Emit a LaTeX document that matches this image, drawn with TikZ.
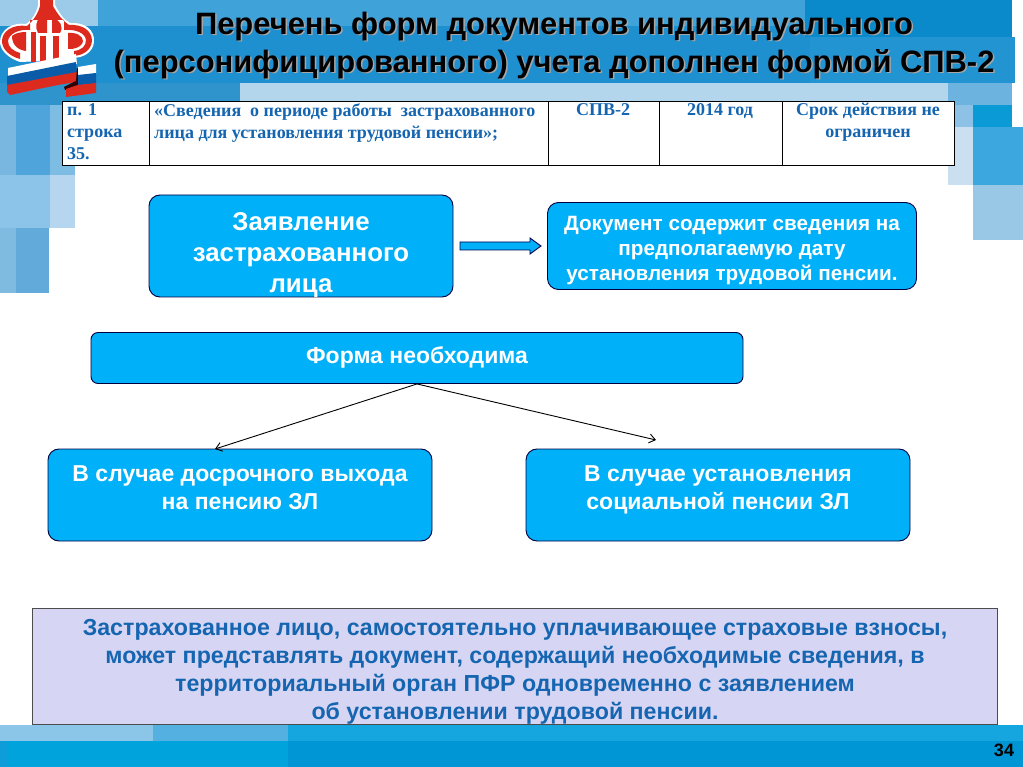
\documentclass[tikz,border=0pt]{standalone}
\usepackage{fontspec}
\setmainfont{Liberation Sans}
\newfontfamily\serifcell{Liberation Serif}
\usetikzlibrary{arrows.meta}
\definecolor{boxblue}{HTML}{00B0F8}
\definecolor{textblue}{HTML}{1565B0}
\definecolor{lav}{HTML}{D6D6F4}
\definecolor{logored}{HTML}{DD2A1E}
\definecolor{flagblue}{HTML}{0A5CA8}
\tikzset{
 x=1pt,y=-1pt,
 bluebox/.style={draw=black!75!blue,line width=0.9pt,fill=boxblue,rounded corners=11pt,inner sep=0pt},
 cell/.style={font=\serifcell\bfseries\fontsize{18}{22}\selectfont,text=textblue,inner sep=0pt},
 lbl/.style={inner sep=0pt,align=center},
 conn/.style={draw=black,line width=0.9pt,-{Straight Barb[length=6pt,width=9pt]}},
}
\newcommand{\blk}[5]{\definecolor{tmpc}{HTML}{#5}\fill[tmpc] (#1,#2) rectangle (#3,#4);}
\begin{document}
\begin{tikzpicture}
\useasboundingbox (0,0) rectangle (1023,767);
\fill[white] (0,0) rectangle (1023,767);
% header blocks
\blk{98}{0}{1012}{83}{2E9AD6}
\blk{0}{0}{98}{26}{9CCBEA}
\blk{0}{26}{1012}{83}{1E8FCF}
\blk{98}{0}{805}{26}{3FA3DA}
\blk{0}{83}{240}{105}{2F93CC}
\blk{240}{83}{948}{105}{B4D6EC}
\blk{805}{0}{1012}{37}{0A8ACB}
\blk{810}{37}{1015}{83}{2294D2}
\blk{948}{83}{1012}{105}{6DB3DF}
\blk{948}{105}{973}{127}{8DC2E6}
\blk{973}{105}{1012}{127}{0A9BD7}
\blk{948}{127}{973}{185}{CADFF0}
\blk{973}{127}{1023}{185}{3BA7DE}
\blk{973}{185}{1023}{240}{99C7E6}
% left column
\blk{0}{105}{16}{175}{79B7E0}
\blk{16}{105}{50}{175}{4FA5DB}
\blk{50}{105}{75}{175}{7DBCE3}
\blk{0}{175}{50}{228}{8BC4E8}
\blk{50}{175}{75}{228}{B5D6EE}
\blk{0}{228}{16}{293}{7FBAE0}
\blk{16}{228}{49}{293}{62AAD9}
% footer
\blk{0}{725}{1023}{767}{0E9DD9}
\blk{0}{725}{153}{741}{8BC6E8}
\blk{153}{725}{288}{741}{55B0E2}
\blk{288}{725}{1023}{741}{15A6DF}
\blk{8}{741}{288}{767}{00A3DC}
\blk{288}{741}{1023}{767}{0096D6}
% logo
\begin{scope}
\fill[white] (38,0) -- (55,0) -- (55,5) .. controls (60,14) and (64,20) .. (70,23) .. controls (85,22) and (95,30) .. (94,42) .. controls (93,52) and (84,58) .. (72,58) -- (68,60) -- (20,62) .. controls (8,58) and (0,50) .. (0,42) .. controls (0,30) and (12,22) .. (26,24) .. controls (32,20) and (37,12) .. (38,5) -- cycle;
\fill[logored] (40,0) -- (53,0) -- (53,6) .. controls (58,15) and (63,21) .. (69,25) .. controls (83,24) and (92,31) .. (92,41) .. controls (91,50) and (84,55) .. (74,56) -- (74,51) .. controls (82,50) and (86,46) .. (86,40) .. controls (85,33) and (76,29) .. (64,30) -- (64,20) -- (30,20) -- (30,30) .. controls (18,29) and (9,34) .. (8,41) .. controls (8,47) and (13,51) .. (20,53) -- (20,59) .. controls (9,56) and (2,49) .. (2,41) .. controls (2,31) and (13,24) .. (27,26) .. controls (33,21) and (38,14) .. (40,6) -- cycle;
\fill[logored] (12,36) .. controls (15,33) and (21,32) .. (26,32) -- (26,51) .. controls (18,50) and (12,45) .. (12,36) -- cycle;
\fill[logored] (68,33) .. controls (76,32) and (83,36) .. (83,41) .. controls (83,45) and (78,48) .. (72,49) -- (68,49) -- cycle;
\fill[logored] (31,32) rectangle (36,62);
\fill[logored] (40,18) .. controls (36,20) and (35,28) .. (38,33) -- (47,33) -- (47,18) -- cycle;
\fill[logored] (52,18) .. controls (60,19) and (64,27) .. (60,33) -- (52,33) -- cycle;
\fill[logored] (40,36) rectangle (46,62);
\fill[logored] (53,36) rectangle (59,60);
\fill[white] (8,68) -- (76,54) -- (77,64) -- (8,77) -- cycle;
\fill[flagblue] (7,76) -- (76,62) -- (77,73) -- (7,86) -- cycle;
\fill[logored] (7,85) -- (77,72) -- (76,82) .. controls (50,86) and (25,92) .. (10,95) -- (7,92) -- cycle;
\fill[black!80!red] (64,87) -- (76,81) -- (77,68) -- (80,70) -- (80,86) -- (65,90) -- cycle;
\fill[white] (78,67) -- (96,64) -- (96,74) -- (78,76) -- cycle;
\fill[flagblue] (78,75) -- (96,73) -- (96,84) -- (78,85) -- cycle;
\fill[logored] (66,89) -- (78,85) -- (96,83) -- (96,93) -- (66,97) -- cycle;
\end{scope}
% title
\node[lbl,font=\bfseries\fontsize{30.9}{38}\selectfont,text=black!35] at (555.5,47) {Перечень форм документов индивидуального\\(персонифицированного) учета дополнен формой СПВ-2};
\node[lbl,font=\bfseries\fontsize{30.9}{38}\selectfont,text=black] (title) at (554,45.5) {Перечень форм документов индивидуального\\(персонифицированного) учета дополнен формой СПВ-2};
% table
\fill[white] (62,101) rectangle (954,165);
\draw[line width=0.9pt,draw=black] (62,101) rectangle (954,165);
\foreach \xx in {149,548,659,782}{\draw[line width=0.9pt] (\xx,101) -- (\xx,165);}
\node[cell,align=left,anchor=north west] (c1) at (67,103) {п. 1\\строка\\35.};
\node[cell,align=left,anchor=north west] (c2) at (154,103) {«Сведения~ о периоде работы~ застрахованного\\лица для установления трудовой пенсии»;};
\node[cell,anchor=north] (c3) at (603,103) {СПВ-2};
\node[cell,anchor=north] (c4) at (720,103) {2014 год};
\node[cell,align=center,anchor=north] (c5) at (868,103) {Срок действия не\\ограничен};
% boxes
\node[bluebox,minimum width=304pt,minimum height=102pt] (a) at (301,246) {};
\node[lbl,text=white,font=\bfseries\fontsize{25.8}{31}\selectfont] at (301,255) {Заявление\\застрахованного\\лица};
\node[bluebox,minimum width=369pt,minimum height=87pt] (b) at (732,246) {};
\node[lbl,text=white,font=\bfseries\fontsize{20.7}{25}\selectfont] at (732,251) {Документ содержит сведения на\\предполагаемую дату\\установления трудовой пенсии.};
\node[bluebox,minimum width=652pt,minimum height=51pt,rounded corners=7pt] (f) at (417,358) {};
\node[lbl,text=white,font=\bfseries\fontsize{23}{28}\selectfont] at (417,357) {Форма необходима};
\node[bluebox,minimum width=384pt,minimum height=92pt] (l) at (240,495) {};
\node[lbl,text=white,font=\bfseries\fontsize{23}{28}\selectfont] at (240,488) {В случае досрочного выхода\\на пенсию ЗЛ};
\node[bluebox,minimum width=384pt,minimum height=92pt] (r) at (718,495) {};
\node[lbl,text=white,font=\bfseries\fontsize{23}{28}\selectfont] at (718,490) {В случае установления\\социальной пенсии ЗЛ};
% connectors
\coordinate (lt) at (215,449);
\coordinate (rt) at (656,440);
\draw[conn] (f.south) -- (lt);
\draw[conn] (f.south) -- (rt);
% block arrow
\fill[boxblue,draw=black!70!blue,line width=0.9pt] (460,242) -- (530,242) -- (530,238) -- (541,246) -- (530,254) -- (530,250) -- (460,250) -- cycle;
% bottom box
\node[draw=black!70,line width=0.9pt,fill=lav,minimum width=965pt,minimum height=116pt,inner sep=0pt] (n) at (515,666) {};
\node[lbl,text=textblue,font=\bfseries\fontsize{23.2}{28}\selectfont] at (515,672) {Застрахованное лицо, самостоятельно уплачивающее страховые взносы,\\может представлять документ, содержащий необходимые сведения, в\\территориальный орган ПФР одновременно с заявлением\\об установлении трудовой пенсии.};
\node[lbl,font=\bfseries\fontsize{18}{20}\selectfont] (pg) at (1004,750) {34};
\end{tikzpicture}
\end{document}
